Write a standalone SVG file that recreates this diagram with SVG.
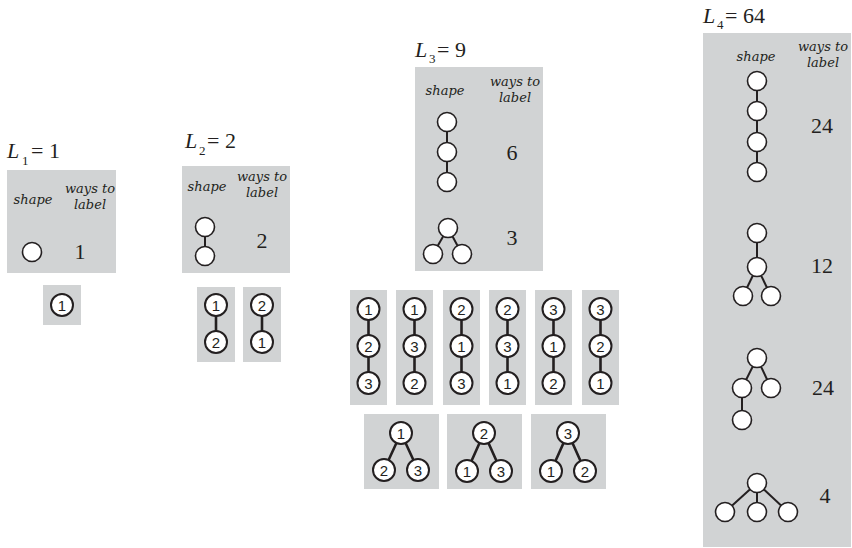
<svg xmlns="http://www.w3.org/2000/svg" width="852" height="548" viewBox="0 0 852 548">
<style>
.bg{fill:#d1d3d4}
.title{font-family:"Liberation Serif",serif;font-size:22px;fill:#231f20}
.it{font-style:italic}
.sub{font-size:13px}
.hdr{font-family:"DejaVu Serif","Liberation Serif",serif;font-style:italic;font-size:13px;fill:#231f20;text-anchor:middle}
.num{font-family:"Liberation Serif",serif;font-size:22px;fill:#231f20;text-anchor:middle}
.s{fill:#fff;stroke:#231f20;stroke-width:1.6}
.n{fill:#fff;stroke:#231f20;stroke-width:2}
.e{stroke:#231f20;stroke-width:2;fill:none}
.el{stroke:#231f20;stroke-width:2.6;fill:none}
.lab{font-family:"Liberation Sans",Arial,sans-serif;font-size:15px;fill:#231f20;text-anchor:middle}
</style>
<defs>
<circle id="sc" r="9.5" class="s"/>
<circle id="lc" r="11" class="n"/>
</defs>

<g id="panels">
<rect class="bg" x="7" y="170" width="109" height="103"/>
<rect class="bg" x="43" y="285" width="38" height="40"/>
<rect class="bg" x="182" y="166" width="108" height="107"/>
<rect class="bg" x="197" y="287" width="38" height="75"/>
<rect class="bg" x="243" y="287" width="38" height="75"/>
<rect class="bg" x="415" y="67" width="128" height="204"/>
<rect class="bg" x="350" y="290" width="37" height="115"/>
<rect class="bg" x="396" y="290" width="37" height="115"/>
<rect class="bg" x="443" y="290" width="37" height="115"/>
<rect class="bg" x="489" y="290" width="37" height="115"/>
<rect class="bg" x="535" y="290" width="37" height="115"/>
<rect class="bg" x="582" y="290" width="37" height="115"/>
<rect class="bg" x="364" y="414" width="75" height="75"/>
<rect class="bg" x="447" y="414" width="75" height="75"/>
<rect class="bg" x="531" y="414" width="75" height="75"/>
<rect class="bg" x="703" y="33" width="148" height="514"/>
</g>

<g id="texts">
<text class="title" y="158"><tspan class="it" x="7">L</tspan><tspan class="sub" x="22" y="165">1</tspan><tspan x="31" y="158">= 1</tspan></text>
<text class="title" y="148"><tspan class="it" x="185">L</tspan><tspan class="sub" x="199" y="155">2</tspan><tspan x="207" y="148">= 2</tspan></text>
<text class="title" y="57"><tspan class="it" x="415">L</tspan><tspan class="sub" x="429" y="63">3</tspan><tspan x="437" y="57">= 9</tspan></text>
<text class="title" y="23"><tspan class="it" x="703">L</tspan><tspan class="sub" x="717" y="29">4</tspan><tspan x="725" y="23">= 64</tspan></text>

<text class="hdr" x="33" y="204">shape</text>
<text class="hdr" x="90" y="193">ways to</text>
<text class="hdr" x="90" y="209">label</text>
<text class="hdr" x="207" y="191">shape</text>
<text class="hdr" x="262" y="181">ways to</text>
<text class="hdr" x="262" y="197">label</text>
<text class="hdr" x="445" y="95">shape</text>
<text class="hdr" x="515" y="86">ways to</text>
<text class="hdr" x="515" y="102">label</text>
<text class="hdr" x="756" y="61">shape</text>
<text class="hdr" x="823" y="51">ways to</text>
<text class="hdr" x="823" y="67">label</text>

<text class="num" x="80" y="259">1</text>
<text class="num" x="262" y="248">2</text>
<text class="num" x="512" y="160">6</text>
<text class="num" x="512" y="245">3</text>
<text class="num" x="822" y="133">24</text>
<text class="num" x="822" y="273">12</text>
<text class="num" x="823" y="395">24</text>
<text class="num" x="825" y="503">4</text>
</g>

<g id="connectors">
<line class="e" x1="205" y1="227" x2="205" y2="256"/>
<line class="e" x1="447" y1="122" x2="447" y2="182"/>
<line class="e" x1="448" y1="228" x2="433" y2="254"/>
<line class="e" x1="448" y1="228" x2="462" y2="254"/>
<line class="e" x1="757" y1="81" x2="757" y2="172"/>
<line class="e" x1="757" y1="233" x2="757" y2="267"/>
<line class="e" x1="757" y1="267" x2="743" y2="296"/>
<line class="e" x1="757" y1="267" x2="771" y2="296"/>
<line class="e" x1="757" y1="358" x2="742" y2="388"/>
<line class="e" x1="757" y1="358" x2="771" y2="388"/>
<line class="e" x1="742" y1="388" x2="742" y2="420"/>
<line class="e" x1="757" y1="483" x2="725" y2="512"/>
<line class="e" x1="757" y1="483" x2="757" y2="512"/>
<line class="e" x1="757" y1="483" x2="788" y2="512"/>

<line class="el" x1="216" y1="305" x2="216" y2="342"/>
<line class="el" x1="262" y1="305" x2="262" y2="342"/>
<line class="el" x1="368.5" y1="309" x2="368.5" y2="383"/>
<line class="el" x1="414.5" y1="309" x2="414.5" y2="383"/>
<line class="el" x1="461.5" y1="309" x2="461.5" y2="383"/>
<line class="el" x1="507.5" y1="309" x2="507.5" y2="383"/>
<line class="el" x1="553.5" y1="309" x2="553.5" y2="383"/>
<line class="el" x1="600.5" y1="309" x2="600.5" y2="383"/>
<path class="el" d="M384 470 L401 433 L418 470"/>
<path class="el" d="M467 471 L484 433 L501 471"/>
<path class="el" d="M551 471 L568 433 L585 471"/>
</g>

<g id="shape-L1"><use href="#sc" x="32" y="252"/></g>
<g id="shape-L2"><use href="#sc" x="205" y="227"/><use href="#sc" x="205" y="256"/></g>
<g id="shape-L3-chain"><use href="#sc" x="447" y="122"/><use href="#sc" x="447" y="152"/><use href="#sc" x="447" y="182"/></g>
<g id="shape-L3-tree"><use href="#sc" x="448" y="228"/><use href="#sc" x="433" y="254"/><use href="#sc" x="462" y="254"/></g>
<g id="shape-L4-chain"><use href="#sc" x="757" y="81"/><use href="#sc" x="757" y="111"/><use href="#sc" x="757" y="142"/><use href="#sc" x="757" y="172"/></g>
<g id="shape-L4-t2"><use href="#sc" x="757" y="233"/><use href="#sc" x="757" y="267"/><use href="#sc" x="743" y="296"/><use href="#sc" x="771" y="296"/></g>
<g id="shape-L4-t3"><use href="#sc" x="757" y="358"/><use href="#sc" x="742" y="388"/><use href="#sc" x="771" y="388"/><use href="#sc" x="742" y="420"/></g>
<g id="shape-L4-t4"><use href="#sc" x="757" y="483"/><use href="#sc" x="725" y="512"/><use href="#sc" x="757" y="512"/><use href="#sc" x="788" y="512"/></g>

<g id="lab-L1"><use href="#lc" x="62" y="305"/><text class="lab" x="62" y="310.5">1</text></g>

<g id="lab-L2-a"><use href="#lc" x="216" y="305"/><text class="lab" x="216" y="310.5">1</text><use href="#lc" x="216" y="342"/><text class="lab" x="216" y="347.5">2</text></g>
<g id="lab-L2-b"><use href="#lc" x="262" y="305"/><text class="lab" x="262" y="310.5">2</text><use href="#lc" x="262" y="342"/><text class="lab" x="262" y="347.5">1</text></g>

<g id="lab-L3-1"><use href="#lc" x="368.5" y="309"/><text class="lab" x="368.5" y="314.5">1</text><use href="#lc" x="368.5" y="346"/><text class="lab" x="368.5" y="351.5">2</text><use href="#lc" x="368.5" y="383"/><text class="lab" x="368.5" y="388.5">3</text></g>
<g id="lab-L3-2"><use href="#lc" x="414.5" y="309"/><text class="lab" x="414.5" y="314.5">1</text><use href="#lc" x="414.5" y="346"/><text class="lab" x="414.5" y="351.5">3</text><use href="#lc" x="414.5" y="383"/><text class="lab" x="414.5" y="388.5">2</text></g>
<g id="lab-L3-3"><use href="#lc" x="461.5" y="309"/><text class="lab" x="461.5" y="314.5">2</text><use href="#lc" x="461.5" y="346"/><text class="lab" x="461.5" y="351.5">1</text><use href="#lc" x="461.5" y="383"/><text class="lab" x="461.5" y="388.5">3</text></g>
<g id="lab-L3-4"><use href="#lc" x="507.5" y="309"/><text class="lab" x="507.5" y="314.5">2</text><use href="#lc" x="507.5" y="346"/><text class="lab" x="507.5" y="351.5">3</text><use href="#lc" x="507.5" y="383"/><text class="lab" x="507.5" y="388.5">1</text></g>
<g id="lab-L3-5"><use href="#lc" x="553.5" y="309"/><text class="lab" x="553.5" y="314.5">3</text><use href="#lc" x="553.5" y="346"/><text class="lab" x="553.5" y="351.5">1</text><use href="#lc" x="553.5" y="383"/><text class="lab" x="553.5" y="388.5">2</text></g>
<g id="lab-L3-6"><use href="#lc" x="600.5" y="309"/><text class="lab" x="600.5" y="314.5">3</text><use href="#lc" x="600.5" y="346"/><text class="lab" x="600.5" y="351.5">2</text><use href="#lc" x="600.5" y="383"/><text class="lab" x="600.5" y="388.5">1</text></g>

<g id="lab-L3-t1"><use href="#lc" x="401" y="433"/><text class="lab" x="401" y="438.5">1</text><use href="#lc" x="384" y="470"/><text class="lab" x="384" y="475.5">2</text><use href="#lc" x="418" y="470"/><text class="lab" x="418" y="475.5">3</text></g>
<g id="lab-L3-t2"><use href="#lc" x="484" y="433"/><text class="lab" x="484" y="438.5">2</text><use href="#lc" x="467" y="471"/><text class="lab" x="467" y="476.5">1</text><use href="#lc" x="501" y="471"/><text class="lab" x="501" y="476.5">3</text></g>
<g id="lab-L3-t3"><use href="#lc" x="568" y="433"/><text class="lab" x="568" y="438.5">3</text><use href="#lc" x="551" y="471"/><text class="lab" x="551" y="476.5">1</text><use href="#lc" x="585" y="471"/><text class="lab" x="585" y="476.5">2</text></g>
</svg>
